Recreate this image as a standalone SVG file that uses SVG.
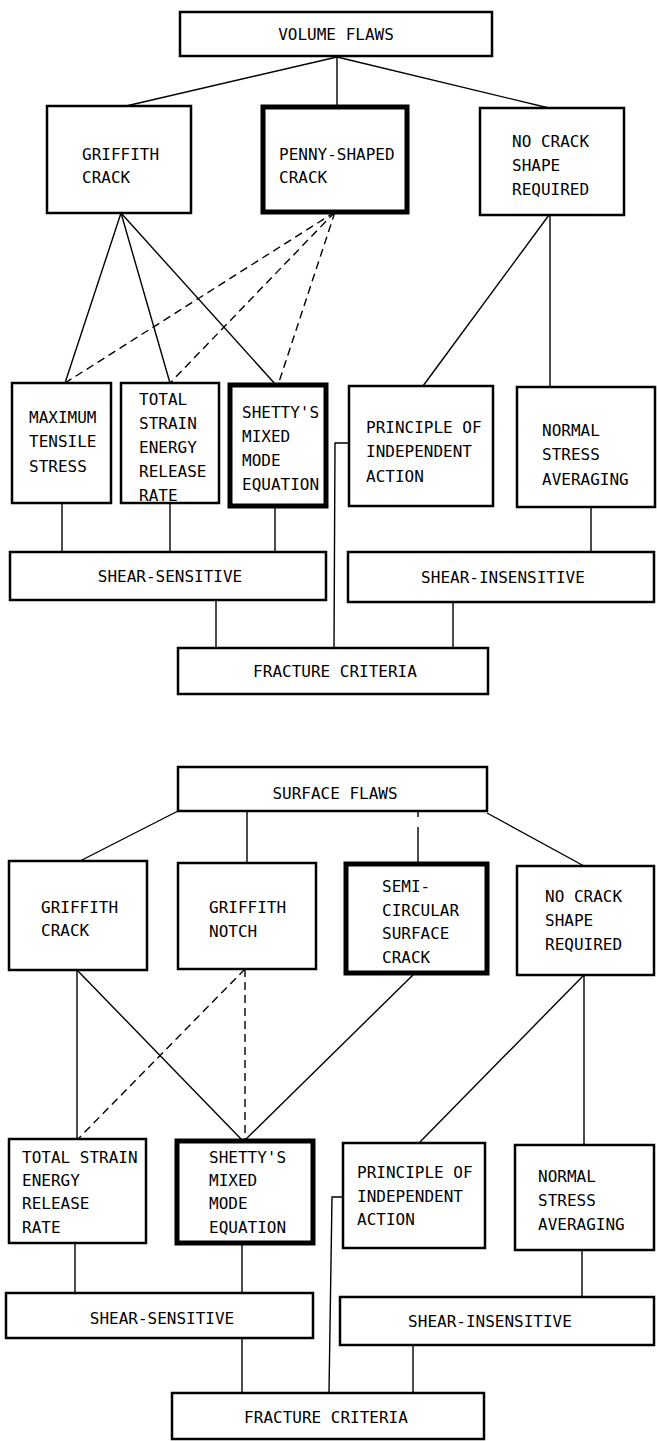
<svg xmlns="http://www.w3.org/2000/svg" width="657" height="1441" viewBox="0 0 657 1441">
<style>
.box{fill:#fff;stroke:#000;stroke-width:2.5}
.thick{stroke-width:5}
.t{font-family:"DejaVu Sans Mono","Liberation Mono",monospace;font-size:16px;fill:#000}
.c{text-anchor:middle}
.ln{stroke:#000;stroke-width:1.4;fill:none}
.d{stroke-dasharray:8 5}
</style>
<rect width="657" height="1441" fill="#fff"/>
<g id="connectors">
<line class="ln" x1="337" y1="57" x2="126" y2="106"/>
<line class="ln" x1="337" y1="57" x2="337" y2="107"/>
<line class="ln" x1="337" y1="57" x2="549" y2="108"/>
<line class="ln" x1="121" y1="213" x2="65" y2="383"/>
<line class="ln" x1="121" y1="213" x2="170" y2="383"/>
<line class="ln" x1="121" y1="213" x2="276" y2="385"/>
<line class="ln d" x1="335" y1="212" x2="65" y2="383"/>
<line class="ln d" x1="335" y1="212" x2="170" y2="383"/>
<line class="ln d" x1="335" y1="212" x2="278" y2="385"/>
<line class="ln" x1="549" y1="215" x2="423" y2="386"/>
<line class="ln" x1="550" y1="215" x2="550" y2="387"/>
<line class="ln" x1="62" y1="503" x2="62" y2="552"/>
<line class="ln" x1="170" y1="503" x2="170" y2="552"/>
<line class="ln" x1="275" y1="506" x2="275" y2="552"/>
<line class="ln" x1="591" y1="507" x2="591" y2="552"/>
<line class="ln" x1="216" y1="600" x2="216" y2="648"/>
<line class="ln" x1="453" y1="602" x2="453" y2="648"/>
<polyline class="ln" points="349,443 335,443 334,648"/>
<line class="ln" x1="178" y1="811" x2="80" y2="861"/>
<line class="ln" x1="247" y1="811" x2="247" y2="863"/>
<line class="ln" x1="418" y1="811" x2="418" y2="864" stroke-dasharray="6 10 40"/>
<line class="ln" x1="487" y1="813" x2="584" y2="866"/>
<line class="ln" x1="77" y1="970" x2="77" y2="1139"/>
<line class="ln" x1="77" y1="970" x2="243" y2="1141"/>
<line class="ln d" x1="245" y1="969" x2="78" y2="1139"/>
<line class="ln d" x1="245" y1="969" x2="245" y2="1141"/>
<line class="ln" x1="415" y1="973" x2="244" y2="1141"/>
<line class="ln" x1="584" y1="975" x2="419" y2="1143"/>
<line class="ln" x1="584" y1="975" x2="584" y2="1145"/>
<line class="ln" x1="75" y1="1243" x2="75" y2="1293"/>
<line class="ln" x1="242" y1="1243" x2="242" y2="1293"/>
<line class="ln" x1="582" y1="1250" x2="582" y2="1297"/>
<line class="ln" x1="242" y1="1338" x2="242" y2="1393"/>
<line class="ln" x1="413" y1="1345" x2="413" y2="1393"/>
<polyline class="ln" points="343,1197 332,1197 329,1393"/>
</g>
<g id="volume-flaws"><rect class="box" x="180" y="12" width="312" height="44"/><text class="t c" x="336" y="40">VOLUME FLAWS</text></g>
<g id="griffith-crack-1"><rect class="box" x="47" y="106" width="144" height="107"/><text class="t" x="82" y="160">GRIFFITH</text><text class="t" x="82" y="183">CRACK</text></g>
<g id="penny-shaped"><rect class="box thick" x="263" y="107" width="144" height="105"/><text class="t" x="279" y="160">PENNY-SHAPED</text><text class="t" x="279" y="183">CRACK</text></g>
<g id="no-crack-1"><rect class="box" x="480" y="108" width="144" height="107"/><text class="t" x="512" y="147">NO CRACK</text><text class="t" x="512" y="171">SHAPE</text><text class="t" x="512" y="195">REQUIRED</text></g>
<g id="max-tensile"><rect class="box" x="12" y="383" width="99" height="120"/><text class="t" x="29" y="423">MAXIMUM</text><text class="t" x="29" y="447">TENSILE</text><text class="t" x="29" y="472">STRESS</text></g>
<g id="total-strain-1"><rect class="box" x="121" y="383" width="98" height="120"/><text class="t" x="139" y="405">TOTAL</text><text class="t" x="139" y="429">STRAIN</text><text class="t" x="139" y="453">ENERGY</text><text class="t" x="139" y="477">RELEASE</text><text class="t" x="139" y="501">RATE</text></g>
<g id="shetty-1"><rect class="box thick" x="230" y="385" width="96" height="121"/><text class="t" x="242" y="418">SHETTY'S</text><text class="t" x="242" y="442">MIXED</text><text class="t" x="242" y="466">MODE</text><text class="t" x="242" y="490">EQUATION</text></g>
<g id="principle-1"><rect class="box" x="349" y="386" width="144" height="120"/><text class="t" x="366" y="433">PRINCIPLE OF</text><text class="t" x="366" y="457">INDEPENDENT</text><text class="t" x="366" y="482">ACTION</text></g>
<g id="normal-1"><rect class="box" x="517" y="387" width="138" height="120"/><text class="t" x="542" y="436">NORMAL</text><text class="t" x="542" y="460">STRESS</text><text class="t" x="542" y="485">AVERAGING</text></g>
<g id="shear-sensitive-1"><rect class="box" x="10" y="552" width="316" height="48"/><text class="t c" x="170" y="582">SHEAR-SENSITIVE</text></g>
<g id="shear-insensitive-1"><rect class="box" x="348" y="552" width="306" height="50"/><text class="t c" x="503" y="583">SHEAR-INSENSITIVE</text></g>
<g id="fracture-criteria-1"><rect class="box" x="178" y="648" width="310" height="46"/><text class="t c" x="335" y="677">FRACTURE CRITERIA</text></g>
<g id="surface-flaws"><rect class="box" x="178" y="767" width="309" height="44"/><text class="t c" x="335" y="799">SURFACE FLAWS</text></g>
<g id="griffith-crack-2"><rect class="box" x="9" y="861" width="138" height="109"/><text class="t" x="41" y="913">GRIFFITH</text><text class="t" x="41" y="936">CRACK</text></g>
<g id="griffith-notch"><rect class="box" x="178" y="863" width="138" height="106"/><text class="t" x="209" y="913">GRIFFITH</text><text class="t" x="209" y="937">NOTCH</text></g>
<g id="semi-circular"><rect class="box thick" x="346" y="864" width="141" height="109"/><text class="t" x="382" y="892">SEMI-</text><text class="t" x="382" y="916">CIRCULAR</text><text class="t" x="382" y="939">SURFACE</text><text class="t" x="382" y="963">CRACK</text></g>
<g id="no-crack-2"><rect class="box" x="517" y="866" width="137" height="109"/><text class="t" x="545" y="902">NO CRACK</text><text class="t" x="545" y="926">SHAPE</text><text class="t" x="545" y="950">REQUIRED</text></g>
<g id="total-strain-2"><rect class="box" x="9" y="1139" width="137" height="104"/><text class="t" x="22" y="1163">TOTAL STRAIN</text><text class="t" x="22" y="1186">ENERGY</text><text class="t" x="22" y="1209">RELEASE</text><text class="t" x="22" y="1233">RATE</text></g>
<g id="shetty-2"><rect class="box thick" x="177" y="1141" width="136" height="102"/><text class="t" x="209" y="1163">SHETTY'S</text><text class="t" x="209" y="1186">MIXED</text><text class="t" x="209" y="1209">MODE</text><text class="t" x="209" y="1233">EQUATION</text></g>
<g id="principle-2"><rect class="box" x="343" y="1143" width="142" height="105"/><text class="t" x="357" y="1178">PRINCIPLE OF</text><text class="t" x="357" y="1202">INDEPENDENT</text><text class="t" x="357" y="1225">ACTION</text></g>
<g id="normal-2"><rect class="box" x="515" y="1145" width="139" height="105"/><text class="t" x="538" y="1182">NORMAL</text><text class="t" x="538" y="1206">STRESS</text><text class="t" x="538" y="1230">AVERAGING</text></g>
<g id="shear-sensitive-2"><rect class="box" x="6" y="1293" width="307" height="45"/><text class="t c" x="162" y="1324">SHEAR-SENSITIVE</text></g>
<g id="shear-insensitive-2"><rect class="box" x="340" y="1297" width="314" height="48"/><text class="t c" x="490" y="1327">SHEAR-INSENSITIVE</text></g>
<g id="fracture-criteria-2"><rect class="box" x="172" y="1393" width="312" height="46"/><text class="t c" x="326" y="1423">FRACTURE CRITERIA</text></g>
</svg>
